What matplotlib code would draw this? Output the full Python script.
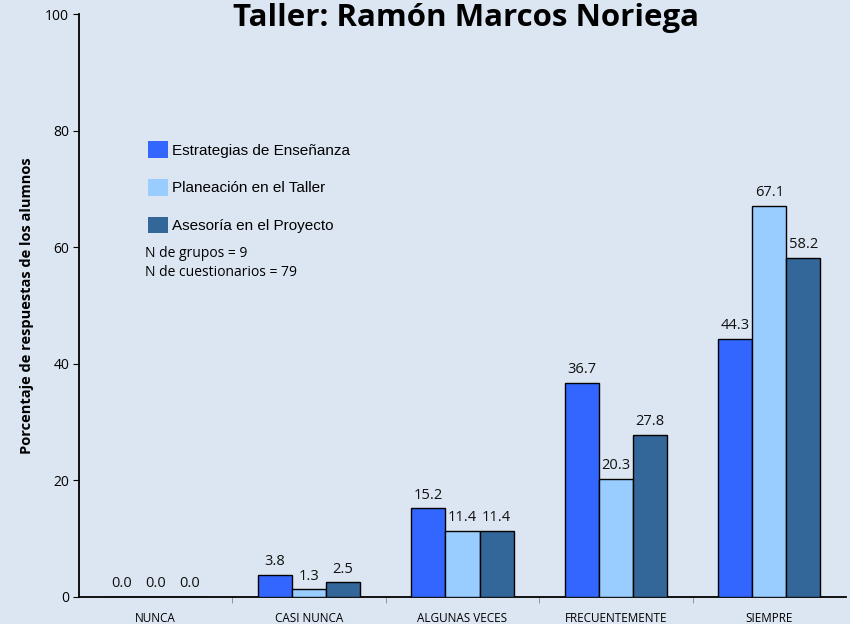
import matplotlib.pyplot as plt
import numpy as np

# categories and the three series (percent of answers)
categorias = ['NUNCA', 'CASI NUNCA', 'ALGUNAS VECES', 'FRECUENTEMENTE', 'SIEMPRE']
estrategias = [0.0, 3.8, 15.2, 36.7, 44.3]
planeacion = [0.0, 1.3, 11.4, 20.3, 67.1]
asesoria = [0.0, 2.5, 11.4, 27.8, 58.2]
series_names = ['Estrategias de Enseñanza', 'Planeación en el Taller', 'Asesoría en el Proyecto']
colores = ['#3366FF', '#99CCFF', '#336699']
bg = '#DCE6F2'

fig = plt.figure(figsize=(8.5, 6.24), dpi=100, facecolor=bg)
ax = fig.add_axes([79/850, 1-597/624, 767/850, 583/624], facecolor=bg)

x = np.arange(len(categorias))
w = 0.222
for i, (vals, c) in enumerate(zip([estrategias, planeacion, asesoria], colores)):
    pos = x + (i - 1) * w
    ax.bar(pos, vals, width=w, color=c, edgecolor='black', linewidth=1.0, label=series_names[i], zorder=3)
    for p, v in zip(pos, vals):
        ax.text(p, v + 1.0, f'{v:.1f}', ha='center', va='bottom', fontsize=10.5,
                family='Open Sans', color='#111111', zorder=4)

ax.set_xlim(-0.5, 4.5)
ax.set_ylim(0, 100)
ax.set_yticks([0, 20, 40, 60, 80, 100])
ax.tick_params(axis='y', labelsize=10, length=4, direction='out', pad=3)
for t in ax.get_yticklabels():
    t.set_family('Open Sans')

ax.set_xticks(x)
ax.set_xticklabels(categorias, fontsize=8.5, family='Open Sans')
ax.tick_params(axis='x', which='major', length=0, pad=11)
ax.set_xticks(np.arange(0.5, 4.5, 1), minor=True)
ax.tick_params(axis='x', which='minor', length=4, color='#888888', direction='out')

for s in ['top', 'right']:
    ax.spines[s].set_visible(False)
ax.spines['left'].set_linewidth(1.3)
ax.spines['bottom'].set_linewidth(1.3)

ax.set_ylabel('Porcentaje de respuestas de los alumnos', fontsize=10.5, fontweight='bold',
              family='Open Sans', labelpad=8)

fig.text(466/850, 1-18/624, 'Taller: Ramón Marcos Noriega', ha='center', va='center',
         fontsize=22.5, fontweight='bold', family='Open Sans')

leg = ax.legend(loc='upper left', bbox_to_anchor=(0.072, 0.805), frameon=False,
                prop={'family': 'Liberation Sans', 'size': 11}, handlelength=1.3,
                handleheight=1.3, handletextpad=0.3, labelspacing=1.37)
for h in leg.legend_handles:
    h.set_edgecolor('none')

ax.text(145/850, 1-263/624, 'N de grupos = 9\nN de cuestionarios = 79', transform=fig.transFigure,
        ha='left', va='center', fontsize=10, family='Open Sans', linespacing=1.3)

fig.savefig('out.png', dpi=100, facecolor=bg)
